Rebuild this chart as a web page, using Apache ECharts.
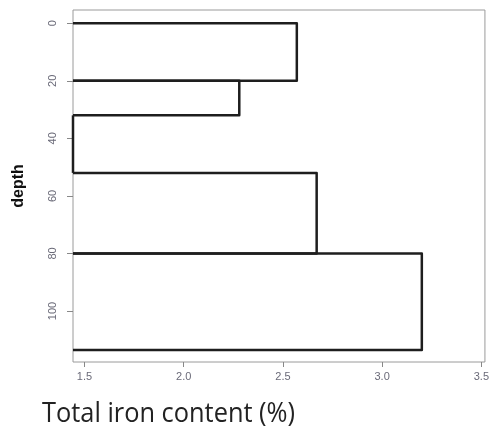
<!DOCTYPE html>
<html><head><meta charset="utf-8">
<script src="https://cdn.jsdelivr.net/npm/echarts@6/dist/echarts.min.js"></script>
<style>html,body{margin:0;padding:0;background:#fff}#c{width:492px;height:432px}</style>
</head><body><div id="c"></div>
<script>
// Data
const depthTop    = [0, 20, 32, 52, 80];
const depthBottom = [20, 32, 52, 80, 113.5];
const ironContent = [2.57, 2.28, 1.442, 2.67, 3.20];
const xTicks = [1.5, 2.0, 2.5, 3.0, 3.5];
const yTicks = [0, 20, 40, 60, 80, 100];

const X_MIN = 1.442, X_MAX = 3.518;
const Y_MIN = -4.6, Y_MAX = 117.7;

const data = ironContent.map((v, i) => [v, depthTop[i], depthBottom[i]]);

const chart = echarts.init(document.getElementById('c'));
chart.setOption({
  animation: false,
  backgroundColor: '#fff',
  grid: { left: 73, right: 5, top: 10, bottom: 70, show: true, borderColor: '#9a9a9a', borderWidth: 1 },
  xAxis: {
    type: 'value', min: X_MIN, max: X_MAX,
    splitLine: { show: false },
    axisLine: { show: false, onZero: false },
    axisTick: { show: true, length: 5, lineStyle: { color: '#888' }, customValues: xTicks },
    axisLabel: { customValues: xTicks, color: '#6a6a78', fontSize: 11, fontFamily: 'Liberation Sans, Arial', margin: 9,
      formatter: v => v.toFixed(1) }
  },
  yAxis: {
    type: 'value', inverse: true, min: Y_MIN, max: Y_MAX,
    name: 'depth', nameLocation: 'middle', nameGap: 46,
    nameTextStyle: { fontWeight: 'bold', fontSize: 16, color: '#111', fontFamily: 'Liberation Sans, Arial' },
    splitLine: { show: false },
    axisLine: { show: false, onZero: false },
    axisTick: { show: true, length: 6, lineStyle: { color: '#888' }, customValues: yTicks },
    axisLabel: { customValues: yTicks, rotate: 90, color: '#6a6a78', fontSize: 11, fontFamily: 'Liberation Sans, Arial', margin: 15 }
  },
  graphic: [{
    type: 'text', x: 42, y: 401, scaleX: 0.94,
    style: { text: 'Total iron content (%)', fontSize: 27, fill: '#222', fontFamily: 'Open Sans' }
  }],
  series: [{
    type: 'custom',
    clip: false,
    encode: { x: 0, y: [1, 2] },
    data: data,
    renderItem: function (params, api) {
      const v = api.value(0), t = api.value(1), b = api.value(2);
      const p0 = api.coord([X_MIN, t]);
      const p1 = api.coord([v, t]);
      const p2 = api.coord([v, b]);
      const p3 = api.coord([X_MIN, b]);
      return {
        type: 'polyline',
        shape: { points: [p0, p1, p2, p3] },
        style: { stroke: '#1e1e1e', lineWidth: 2.5, fill: null, lineJoin: 'round' }
      };
    }
  }]
});
</script></body></html>
